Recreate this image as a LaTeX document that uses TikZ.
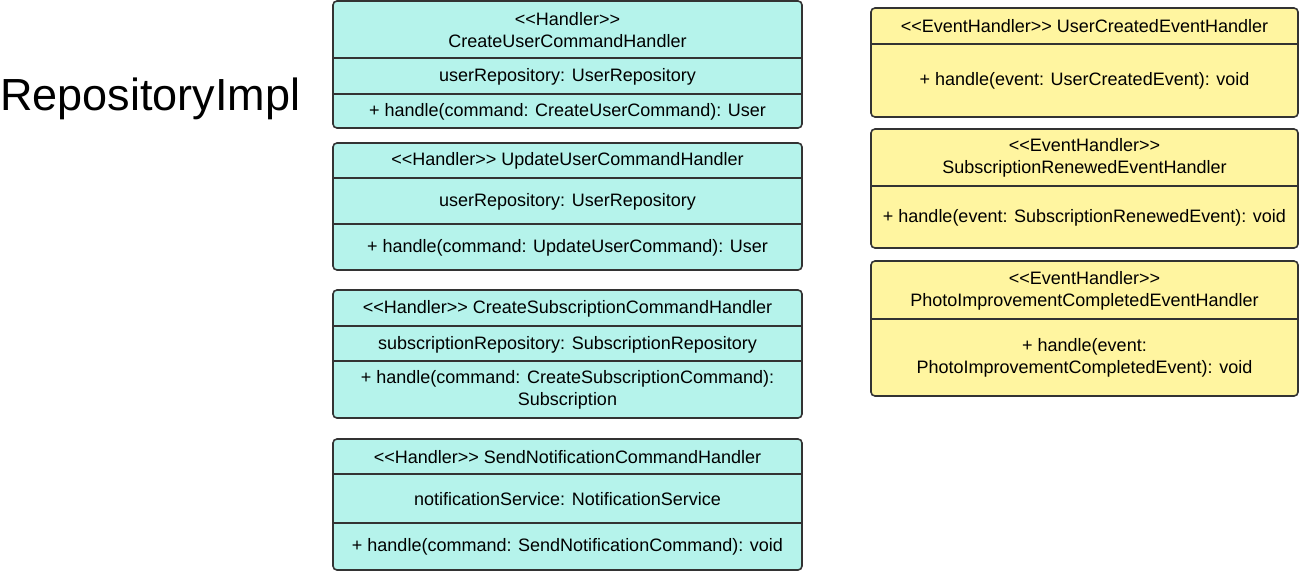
\documentclass[tikz,border=0pt]{standalone}
\usepackage{fontspec}
\setmainfont{Liberation Sans}
\definecolor{tealfill}{RGB}{181,243,235}
\definecolor{yelfill}{RGB}{255,245,160}
\definecolor{edge}{RGB}{51,51,51}
\newcommand\stO{<\kern0pt<}
\newcommand\stC{>\kern0pt>}
\tikzset{
  umlbox/.style={draw=edge, line width=1.6pt, rounded corners=4pt},
  divider/.style={draw=edge, line width=1.6pt},
  txt/.style={inner sep=0pt, align=center, font=\fontsize{18}{22}\selectfont, text=black, yshift=-1.5pt},
  title/.style={inner sep=0pt, anchor=base west, font=\fontsize{45}{50}\selectfont, text=black}
}
\begin{document}
\begin{tikzpicture}[x=1pt,y=-1pt]
\useasboundingbox (0,0) rectangle (1299,571);
% title
\node[title] (ttl) at (0,110) {RepositoryImpl};
% ---------- left column ----------
% box 1
\draw[umlbox, fill=tealfill] (333,1) rectangle (802,128);
\draw[divider] (333,58) -- (802,58) (333,94) -- (802,94);
\node[txt] (a1h) at (567.5,28.5) {\stO Handler\stC\\CreateUserCommandHandler};
\node[txt] (a1f) at (567.5,75.5) {userRepository: UserRepository};
\node[txt] (a1m) at (567.5,110.5) {+ handle(command: CreateUserCommand): User};
% box 2
\draw[umlbox, fill=tealfill] (333,143) rectangle (802,270);
\draw[divider] (333,178) -- (802,178) (333,224) -- (802,224);
\node[txt] (a2h) at (567.5,159.5) {\stO Handler\stC{} UpdateUserCommandHandler};
\node[txt] (a2f) at (567.5,200.5) {userRepository: UserRepository};
\node[txt] (a2m) at (567.5,246.5) {+ handle(command: UpdateUserCommand): User};
% box 3
\draw[umlbox, fill=tealfill] (333,290) rectangle (802,418);
\draw[divider] (333,326) -- (802,326) (333,361) -- (802,361);
\node[txt] (a3h) at (567.5,307) {\stO Handler\stC{} CreateSubscriptionCommandHandler};
\node[txt] (a3f) at (567.5,343) {subscriptionRepository: SubscriptionRepository};
\node[txt] (a3m) at (567.5,388.5) {+ handle(command: CreateSubscriptionCommand):\\Subscription};
% box 4
\draw[umlbox, fill=tealfill] (333,439) rectangle (802,570);
\draw[divider] (333,474) -- (802,474) (333,523) -- (802,523);
\node[txt] (a4h) at (567.5,455.5) {\stO Handler\stC{} SendNotificationCommandHandler};
\node[txt] (a4f) at (567.5,497.5) {notificationService: NotificationService};
\node[txt] (a4m) at (567.5,545.5) {+ handle(command: SendNotificationCommand): void};
% ---------- right column ----------
% box A
\draw[umlbox, fill=yelfill] (871,8) rectangle (1298,117);
\draw[divider] (871,44) -- (1298,44);
\node[txt] (e1h) at (1084.5,25) {\stO EventHandler\stC{} UserCreatedEventHandler};
\node[txt] (e1m) at (1084.5,79.5) {+ handle(event: UserCreatedEvent): void};
% box B
\draw[umlbox, fill=yelfill] (871,129) rectangle (1298,248);
\draw[divider] (871,186) -- (1298,186);
\node[txt] (e2h) at (1084.5,156.5) {\stO EventHandler\stC\\SubscriptionRenewedEventHandler};
\node[txt] (e2m) at (1084.5,216) {+ handle(event: SubscriptionRenewedEvent): void};
% box C
\draw[umlbox, fill=yelfill] (871,261) rectangle (1298,396);
\draw[divider] (871,319) -- (1298,319);
\node[txt] (e3h) at (1084.5,289) {\stO EventHandler\stC\\PhotoImprovementCompletedEventHandler};
\node[txt] (e3m) at (1084.5,356.5) {+ handle(event:\\PhotoImprovementCompletedEvent): void};
\end{tikzpicture}
\end{document}
